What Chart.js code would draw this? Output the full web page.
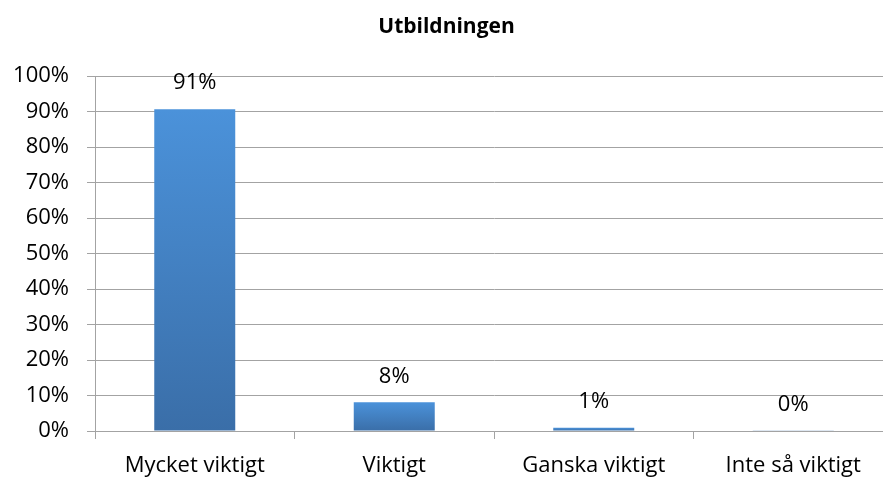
<!DOCTYPE html>
<html>
<head>
<meta charset="utf-8">
<script src="https://cdn.jsdelivr.net/npm/chart.js@4/dist/chart.umd.min.js"></script>
<style>
  html, body { margin: 0; padding: 0; overflow: hidden; background: #fff; }
  #wrap { width: 918px; height: 482px; }
</style>
</head>
<body>
<div id="wrap"><canvas id="chart"></canvas></div>
<script>
// データ.
const Categories = ['Mycket viktigt', 'Viktigt', 'Ganska viktigt', 'Inte så viktigt'];
const Values = [90.7, 8.1, 0.9, 0.2];
const Title = 'Utbildningen';

const FontName = '"Open Sans", Lato, sans-serif';
const GridColor = '#a3a3a3';

// 棒のグラデーション.
function barGradient(context) {
  const chart = context.chart;
  if (!chart.chartArea || context.type !== 'data') return '#4a8fd5';
  const y = chart.scales.y;
  const top = y.getPixelForValue(context.parsed.y);
  const base = y.getPixelForValue(0);
  if (base - top < 1) return '#7b9fc6';
  const g = chart.ctx.createLinearGradient(0, top, 0, base);
  g.addColorStop(0, '#4b92da');
  g.addColorStop(1, '#3a6ea8');
  return g;
}

// 値ラベル.
const valueLabels = {
  id: 'valueLabels',
  afterDatasetsDraw(chart) {
    const ctx = chart.ctx;
    const meta = chart.getDatasetMeta(0);
    ctx.save();
    ctx.font = '22px ' + FontName;
    ctx.fillStyle = '#000';
    ctx.textAlign = 'center';
    ctx.textBaseline = 'middle';
    meta.data.forEach(function(bar, i) {
      ctx.fillText(Math.round(Values[i]) + '%', bar.x, bar.y - 26);
    });
    ctx.restore();
  }
};

new Chart(document.getElementById('chart'), {
  type: 'bar',
  data: {
    labels: Categories,
    datasets: [{
      data: Values,
      backgroundColor: barGradient,
      categoryPercentage: 1.0,
      barPercentage: 0.406,
    }]
  },
  plugins: [valueLabels],
  options: {
    responsive: true,
    maintainAspectRatio: false,
    animation: false,
    layout: { padding: { left: 0, right: 25, top: 0, bottom: 4 } },
    plugins: {
      legend: { display: false },
      tooltip: { enabled: false },
      title: {
        display: true,
        text: Title,
        color: '#000',
        font: { family: FontName, size: 21, weight: 'bold' },
        padding: { top: 14, bottom: 37 }
      }
    },
    scales: {
      x: {
        afterFit: function(scale) { scale.height = 47; },
        grid: { display: true, drawOnChartArea: false, drawTicks: true, tickLength: 8, color: GridColor },
        border: { display: true, color: GridColor },
        ticks: { color: '#000', padding: 14, font: { family: FontName, size: 22 } }
      },
      y: {
        min: 0,
        max: 100,
        afterFit: function(scale) { scale.width = 95; },
        grid: { color: GridColor, tickLength: 8 },
        border: { display: true, color: GridColor },
        ticks: {
          stepSize: 10,
          padding: 18,
          color: '#000',
          font: { family: FontName, size: 22 },
          callback: function(v) { return v + '%'; }
        }
      }
    }
  }
});
</script>
</body>
</html>
